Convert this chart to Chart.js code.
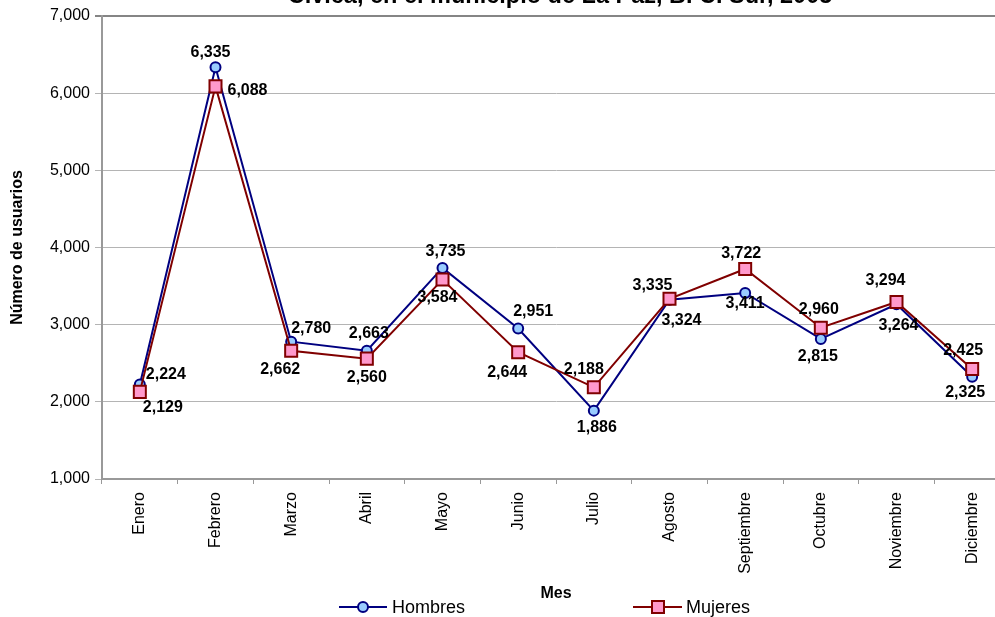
<!DOCTYPE html>
<html lang="es">
<head>
<meta charset="utf-8">
<title>Usuarios por mes</title>
<script src="https://cdn.jsdelivr.net/npm/chart.js@4/dist/chart.umd.min.js"></script>
<style>
  html, body { margin: 0; padding: 0; background: #fff; overflow: hidden; }
  #wrap { position: absolute; left: 0; top: 0; width: 1030px; height: 617px; }
</style>
</head>
<body>
<div id="wrap"><canvas id="grafica"></canvas></div>
<script>
// datos
const meses = ['Enero', 'Febrero', 'Marzo', 'Abril', 'Mayo', 'Junio', 'Julio',
  'Agosto', 'Septiembre', 'Octubre', 'Noviembre', 'Diciembre'];
const hombres = [2224, 6335, 2780, 2663, 3735, 2951, 1886, 3324, 3411, 2815, 3264, 2325];
const mujeres = [2129, 6088, 2662, 2560, 3584, 2644, 2188, 3335, 3722, 2960, 3294, 2425];
const ejeY = { min: 1000, max: 7000, paso: 1000 };
const titulo = 'Cívica, en el municipio de La Paz, B. C. Sur, 2005';

// donde va cada etiqueta respecto a su punto (dx, dy)
const posEtiquetasH = [[26, -10], [-5, -15], [20, -13], [2, -17], [3, -16], [15, -17],
  [3, 17], [12, 21], [0, 11], [-3, 18], [2, 21], [-7, 16]];
const posEtiquetasM = [[23, 16], [32, 4], [-11, 19], [0, 19], [-5, 18], [-11, 20],
  [-10, -18], [-17, -13], [-4, -15], [-2, -18], [-11, -21], [-9, -18]];

const AZUL = '#000080', AZUL_CLARO = '#99ccff';
const GUINDA = '#800000', ROSA = '#ff99cc';
const fuente = "'Liberation Sans', Arial, sans-serif";

document.addEventListener('DOMContentLoaded', () => {
  Chart.defaults.font.family = fuente;
  Chart.defaults.color = '#000';

  const fmt = v => Number(v).toLocaleString('en-US');

  // etiquetas de valores sobre los puntos
  const etiquetas = {
    id: 'etiquetas',
    afterDatasetsDraw(chart) {
      const ctx = chart.ctx;
      ctx.save();
      ctx.font = 'bold 16px ' + fuente;
      ctx.fillStyle = '#000';
      ctx.textAlign = 'center';
      ctx.textBaseline = 'middle';
      chart.data.datasets.forEach((ds, i) => {
        const meta = chart.getDatasetMeta(i);
        const pos = i === 0 ? posEtiquetasH : posEtiquetasM;
        meta.data.forEach((p, j) => {
          ctx.fillText(fmt(ds.data[j]), p.x + pos[j][0], p.y + pos[j][1]);
        });
      });
      ctx.restore();
    }
  };

  // titulo (cortado arriba) y leyenda
  const extras = {
    id: 'extras',
    afterDraw(chart) {
      const ctx = chart.ctx;
      ctx.save();
      ctx.fillStyle = '#000';
      ctx.font = 'bold 23.5px ' + fuente;
      ctx.textAlign = 'center';
      ctx.textBaseline = 'alphabetic';
      ctx.fillText(titulo, 560, 3);

      const yL = 607;
      ctx.lineWidth = 2;
      // Hombres
      ctx.strokeStyle = AZUL;
      ctx.beginPath(); ctx.moveTo(339, yL); ctx.lineTo(387, yL); ctx.stroke();
      ctx.beginPath(); ctx.arc(363, yL, 5, 0, Math.PI * 2);
      ctx.fillStyle = AZUL_CLARO; ctx.fill(); ctx.stroke();
      // Mujeres
      ctx.strokeStyle = GUINDA;
      ctx.beginPath(); ctx.moveTo(633, yL); ctx.lineTo(682, yL); ctx.stroke();
      ctx.fillStyle = ROSA;
      ctx.fillRect(652, yL - 6, 12, 12);
      ctx.strokeRect(652, yL - 6, 12, 12);

      ctx.fillStyle = '#000';
      ctx.font = '18px ' + fuente;
      ctx.textAlign = 'left';
      ctx.textBaseline = 'middle';
      ctx.fillText(chart.data.datasets[0].label, 392, yL + 1);
      ctx.fillText(chart.data.datasets[1].label, 686, yL + 1);
      ctx.restore();
    }
  };

  new Chart(document.getElementById('grafica'), {
    type: 'line',
    data: {
      labels: meses,
      datasets: [{
        label: 'Hombres',
        data: hombres,
        borderColor: AZUL,
        borderWidth: 2,
        pointStyle: 'circle',
        pointRadius: 5,
        pointBackgroundColor: AZUL_CLARO,
        pointBorderColor: AZUL,
        pointBorderWidth: 2,
        tension: 0,
        order: 1
      }, {
        label: 'Mujeres',
        data: mujeres,
        borderColor: GUINDA,
        borderWidth: 2,
        pointStyle: 'rect',
        pointRadius: 8.5,
        pointBackgroundColor: ROSA,
        pointBorderColor: GUINDA,
        pointBorderWidth: 2,
        tension: 0,
        order: 0
      }]
    },
    options: {
      responsive: true,
      maintainAspectRatio: false,
      animation: false,
      layout: { padding: { left: 0, top: 16, right: 20, bottom: 0 } },
      plugins: {
        legend: { display: false },
        title: { display: false },
        tooltip: { enabled: false }
      },
      scales: {
        x: {
          offset: true,
          grid: { offset: true, drawOnChartArea: false, drawTicks: true, tickLength: 5, color: '#999' },
          border: { color: '#999', width: 2 },
          ticks: { autoSkip: false, minRotation: 90, maxRotation: 90, padding: 8, font: { size: 16 } },
          title: { display: true, text: 'Mes', font: { size: 16, weight: 'bold' }, padding: { top: 0, bottom: 14 } },
          afterFit: s => { s.height = 138; }
        },
        y: {
          min: ejeY.min,
          max: ejeY.max,
          grid: {
            color: c => c.tick && c.tick.value === ejeY.max ? '#858585' : '#b4b4b4',
            lineWidth: c => c.tick && c.tick.value === ejeY.max ? 2 : 1,
            tickLength: 7
          },
          border: { color: '#999', width: 2 },
          ticks: { stepSize: ejeY.paso, padding: 5, font: { size: 16 }, callback: v => fmt(v) },
          title: { display: true, text: 'Número de usuarios', font: { size: 16, weight: 'bold' }, padding: { top: 8, bottom: 0 } },
          afterFit: s => { s.width = 102; }
        }
      }
    },
    plugins: [etiquetas, extras]
  });
});
</script>
</body>
</html>
